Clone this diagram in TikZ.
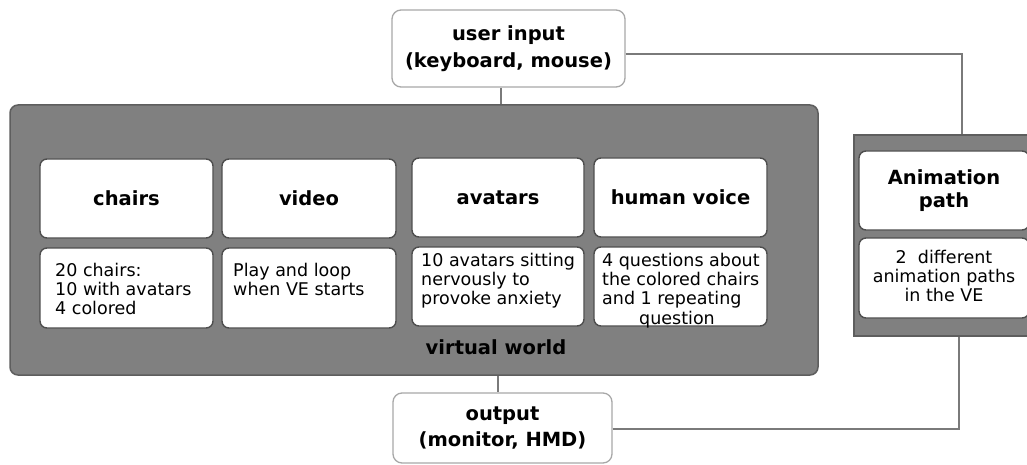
\documentclass[tikz,border=0pt]{standalone}
\usepackage{fontspec}
\setmainfont{DejaVu Sans}
\definecolor{panelfill}{HTML}{808080}
\definecolor{paneledge}{HTML}{5E5E5E}
\definecolor{cardedge}{HTML}{4E4E4E}
\definecolor{outeredge}{HTML}{A8A8A8}
\definecolor{wire}{HTML}{7A7A7A}
\tikzset{
  panel/.style={fill=panelfill, draw=paneledge, line width=1.5pt, inner sep=0pt},
  card/.style={fill=white, draw=cardedge, line width=1.4pt, rounded corners=7pt, inner sep=0pt},
  outerbox/.style={fill=white, draw=outeredge, line width=1.3pt, rounded corners=9pt, inner sep=0pt,
    align=center, font=\fontsize{19.5}{26.5}\selectfont\bfseries},
  titletext/.style={align=center, font=\fontsize{19.5}{23}\selectfont\bfseries},
  bodytext/.style={inner sep=0pt, font=\fontsize{17.5}{19.2}\selectfont},
  wireline/.style={draw=wire, line width=1.2pt},
}
\begin{document}
\begin{tikzpicture}[x=1pt, y=-1pt]
\useasboundingbox (0,0) rectangle (1027,465);
\begin{scope}
\clip (0,0) rectangle (1027,465);

% virtual world panel and the animation path panel
\node[panel, rounded corners=8pt, minimum width=808pt, minimum height=270pt] (vw) at (414,240) {};
\node[panel, minimum width=180pt, minimum height=201pt] (ap) at (944,235.5) {};
\node[font=\fontsize{19.5}{23}\selectfont\bfseries, inner sep=0pt] (vwlabel) at (496,347) {virtual world};

% input and output devices
\node[outerbox, minimum width=233pt, minimum height=77pt] (ui) at (508.5,48.5) {user input\\(keyboard, mouse)};
\node[outerbox, minimum width=219pt, minimum height=70pt] (out) at (502.5,428) {output\\(monitor, HMD)};

% component title cards
\node[card, titletext, minimum width=173pt, minimum height=79pt] (chairs) at (126.5,198.5) {chairs};
\node[card, titletext, minimum width=174pt, minimum height=79pt] (video) at (309,198.5) {video};
\node[card, titletext, minimum width=172pt, minimum height=79pt] (avatars) at (498,197.5) {avatars};
\node[card, titletext, minimum width=173pt, minimum height=79pt] (voice) at (680.5,197.5) {human voice};
\node[card, titletext, minimum width=170pt, minimum height=79pt] (anim) at (944,190.5) {Animation\\path};

% component description cards
\node[card, minimum width=173pt, minimum height=80pt] (chairsd) at (126.5,288) {};
\node[card, minimum width=174pt, minimum height=80pt] (videod) at (309,288) {};
\node[card, minimum width=172pt, minimum height=79pt] (avatarsd) at (498,286.5) {};
\node[card, minimum width=173pt, minimum height=79pt] (voiced) at (680.5,286.5) {};
\node[card, minimum width=170pt, minimum height=80pt] (animd) at (944,278) {};

\node[bodytext, align=left, anchor=north west] (chairst) at (55,263) {20 chairs:\\10 with avatars\\4 colored};
\node[bodytext, align=left, anchor=north west] (videot) at (233,263) {Play and loop\\when VE starts};
\node[bodytext, align=left, anchor=north west] (avatarst) at (421,253) {10 avatars sitting\\nervously to\\provoke anxiety};
\node[bodytext, align=left, anchor=north west] (voicet) at (602,253) {4 questions about\\the colored chairs\\and 1 repeating\\\hspace*{37pt}question};
\node[bodytext, align=center, anchor=north] (animt) at (944,250) {2~ different\\animation paths\\in the VE};

% connectors
\draw[wireline] ([xshift=-7.5pt]ui.south) -- ([xshift=-7.5pt]ui.south |- vw.north);
\draw[wireline] ([yshift=-5.5pt]ui.east) -| ([xshift=18pt]ap.north);
\draw[wireline] ([xshift=-4.5pt]out.north |- vw.south) -- ([xshift=-4.5pt]out.north);
\draw[wireline] ([yshift=-1pt]out.east) -| ([xshift=15pt]ap.south);
\end{scope}
\end{tikzpicture}
\end{document}
